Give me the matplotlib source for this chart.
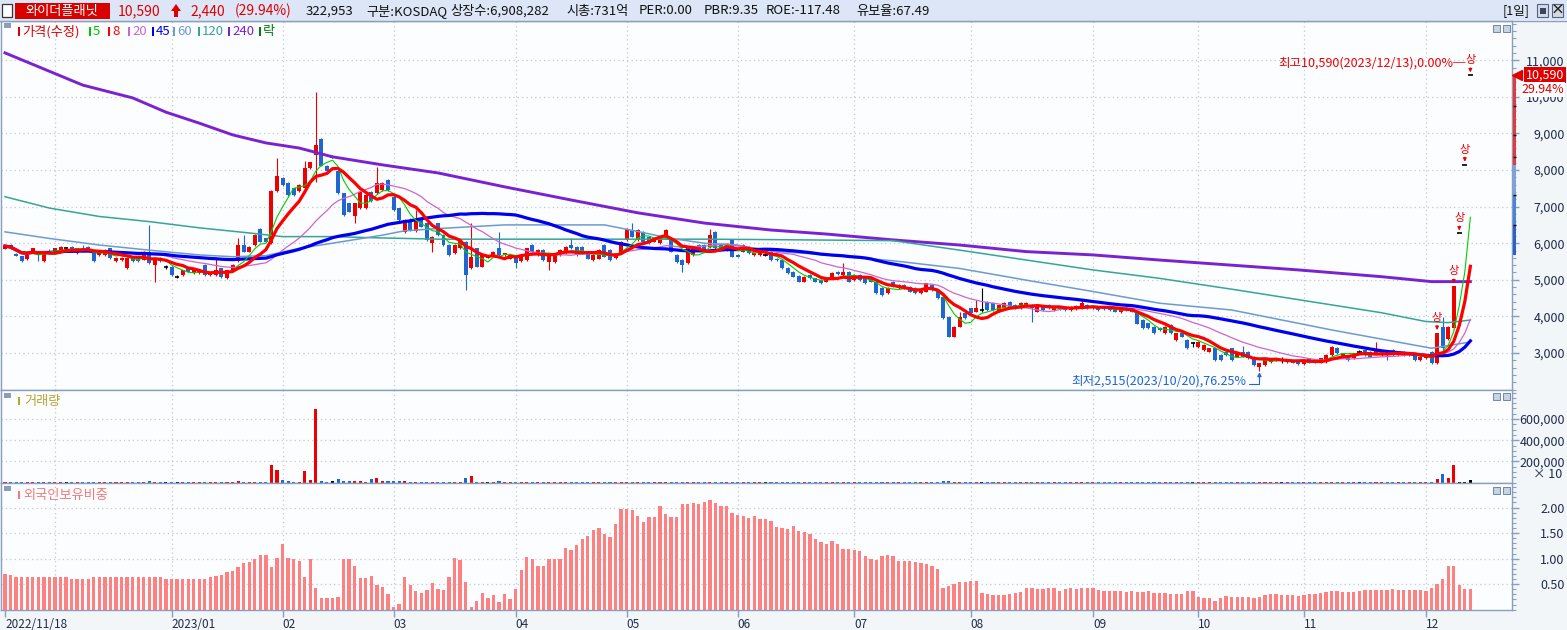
"""Daily candle chart of 와이더플래닛 (KOSDAQ) with volume and foreign holding ratio."""

import matplotlib

matplotlib.use("Agg")
import matplotlib.pyplot as plt
import numpy as np
import pandas as pd
from matplotlib.patches import Polygon, Rectangle
from matplotlib.ticker import FuncFormatter, MultipleLocator
from matplotlib.transforms import blended_transform_factory

plt.rcParams["font.family"] = ["Noto Sans CJK KR", "DejaVu Sans"]

# ---------------------------------------------------------------- data
# one entry per trading day, 2022/11/18 .. 2023/12/13 (265 days)
opens = [
    5850, 5950, 5700, 5640, 5560, 5770, 5780, 5500, 5800, 5780,
    5780, 5860, 5900, 5730, 5860, 5900, 5770, 5680, 5680, 5860,
    5500, 5530, 5310, 5590, 5590, 5550, 5770, 5400, 5590, 5350,
    5350, 5080, 5130, 5310, 5180, 5180, 5400, 5130, 5130, 5310,
    5040, 5260, 5500, 5950, 5770, 5950, 6400, 6130, 6000, 7430,
    7770, 7650, 7500, 7430, 7500, 8060, 8410, 8860, 8120, 8360,
    7970, 7360, 7090, 6730, 6950, 6950, 7410, 7360, 7450, 7730,
    7270, 6950, 6310, 6630, 6320, 6630, 6540, 6000, 6540, 6220,
    5950, 5720, 5860, 6040, 5310, 5860, 5360, 5630, 5680, 5860,
    5680, 5580, 5630, 5500, 5540, 5950, 5680, 5810, 5490, 5490,
    5680, 5720, 5950, 5900, 5900, 5770, 5540, 5580, 5950, 5810,
    5590, 5720, 6090, 6360, 6090, 6310, 6180, 6040, 6000, 6130,
    6090, 5680, 5540, 5450, 5680, 5950, 5950, 5900, 6310, 5990,
    5810, 6090, 5680, 5770, 5900, 5680, 5680, 5680, 5770, 5580,
    5540, 5330, 5220, 5110, 4950, 5130, 5040, 4990, 4950, 5040,
    5220, 5130, 5220, 4990, 5140, 5090, 5040, 4950, 4770, 4630,
    4950, 4770, 4860, 4810, 4770, 4630, 4680, 4860, 4720, 4540,
    3990, 3450, 3720, 4080, 4220, 4130, 4180, 4400, 4360, 4130,
    4220, 4400, 4310, 4220, 4310, 4310, 4130, 4270, 4310, 4180,
    4270, 4240, 4180, 4200, 4220, 4310, 4220, 4270, 4240, 4240,
    4240, 4110, 4270, 4220, 4130, 3900, 3810, 3720, 3680, 3540,
    3770, 3360, 3540, 3360, 3260, 3170, 3080, 3040, 3130, 2950,
    3040, 3130, 2900, 3040, 3040, 2900, 2630, 2670, 2760, 2810,
    2810, 2760, 2800, 2760, 2700, 2850, 2810, 2740, 2760, 2940,
    3150, 2900, 2900, 2850, 3040, 3080, 3040, 2990, 2950, 3040,
    3080, 2950, 3040, 2950, 2990, 2810, 2850, 3040, 2730, 3720,
    3380, 3680, 6270, 8150, 10590,
]
highs = [
    5950, 5970, 5720, 5660, 5720, 5880, 5800, 5800, 5830, 5880,
    5920, 5900, 5930, 5880, 5950, 5920, 5790, 5790, 5830, 5880,
    5610, 5610, 5610, 5610, 5610, 5790, 6500, 5610, 5610, 5400,
    5370, 5130, 5280, 5330, 5280, 5280, 5420, 5190, 5590, 5330,
    5280, 5420, 6130, 6220, 5920, 6240, 6420, 6150, 7450, 8320,
    7800, 7670, 7520, 7610, 8250, 8230, 10140, 8880, 8140, 8400,
    7990, 7380, 7110, 7110, 7430, 7340, 7430, 8090, 7660, 7750,
    7290, 6970, 6650, 6680, 6910, 6650, 6560, 6200, 6560, 6240,
    5970, 5970, 6110, 6060, 6540, 5880, 5700, 5680, 5790, 6310,
    5740, 5700, 5650, 5700, 5880, 5970, 5830, 5830, 5700, 5740,
    5830, 5920, 6130, 5920, 5920, 5790, 5700, 5830, 5970, 5830,
    5740, 6060, 6420, 6540, 6380, 6330, 6200, 6150, 6200, 6380,
    6110, 5700, 5560, 5880, 5880, 5970, 5970, 6400, 6330, 6010,
    6010, 6110, 5700, 5970, 5920, 5740, 5740, 5720, 5790, 5600,
    5560, 5350, 5240, 5130, 5100, 5150, 5060, 5010, 5060, 5200,
    5240, 5450, 5240, 5150, 5160, 5110, 5060, 4970, 4790, 4790,
    4970, 4880, 4880, 4830, 4790, 4740, 4920, 4880, 4740, 4560,
    4010, 3740, 4130, 4100, 4240, 4450, 4770, 4420, 4380, 4330,
    4380, 4420, 4330, 4380, 4380, 4330, 4290, 4290, 4330, 4290,
    4290, 4260, 4290, 4310, 4450, 4330, 4310, 4290, 4260, 4260,
    4260, 4200, 4350, 4240, 4150, 3920, 3830, 3740, 3700, 3740,
    3790, 3560, 3560, 3380, 3310, 3330, 3240, 3150, 3150, 2970,
    3060, 3150, 3010, 3180, 3060, 2920, 2740, 2870, 2830, 2870,
    2900, 2830, 2820, 2780, 2780, 2870, 2830, 2870, 2960, 3190,
    3170, 3010, 2920, 3010, 3080, 3100, 3060, 3310, 3060, 3060,
    3100, 3060, 3060, 3010, 3010, 2920, 2920, 3060, 3550, 3990,
    3750, 4820, 6270, 8150, 10590,
]
lows = [
    5830, 5850, 5640, 5480, 5540, 5750, 5500, 5480, 5740, 5760,
    5760, 5820, 5750, 5700, 5750, 5790, 5480, 5660, 5660, 5570,
    5480, 5510, 5290, 5480, 5480, 5530, 5430, 4950, 5480, 5300,
    5110, 5040, 5110, 5200, 5160, 5160, 5110, 5110, 5110, 5060,
    5020, 5240, 5480, 5750, 5750, 5930, 6020, 6020, 5980, 7400,
    7570, 7300, 7300, 7410, 7480, 8040, 7660, 8100, 7950, 8330,
    7340, 6750, 6840, 6540, 6930, 6930, 7130, 7340, 7430, 7430,
    6880, 6610, 6290, 6340, 6300, 6430, 6070, 5770, 6200, 5930,
    5660, 5700, 5840, 4720, 5290, 5340, 5340, 5590, 5660, 5660,
    5660, 5560, 5310, 5480, 5520, 5750, 5660, 5520, 5270, 5470,
    5660, 5700, 5840, 5660, 5700, 5560, 5520, 5560, 5610, 5520,
    5570, 5700, 6070, 6160, 6070, 6020, 5980, 6020, 5980, 6110,
    5750, 5470, 5220, 5430, 5660, 5790, 5750, 5880, 5840, 5840,
    5790, 5610, 5610, 5750, 5700, 5660, 5660, 5640, 5520, 5520,
    5290, 5160, 5070, 4930, 4930, 5020, 4930, 4880, 4930, 5020,
    5130, 5110, 4930, 4970, 4980, 4880, 4930, 4610, 4570, 4610,
    4790, 4750, 4750, 4660, 4610, 4610, 4660, 4700, 4470, 3930,
    3430, 3430, 3700, 3930, 4060, 4110, 4130, 4160, 4160, 4110,
    4200, 4250, 4200, 4200, 4290, 3860, 4110, 4160, 4200, 4160,
    4180, 4160, 4160, 4180, 4200, 4200, 4200, 4160, 4180, 4160,
    4110, 4090, 4160, 4110, 3780, 3660, 3660, 3520, 3610, 3520,
    3520, 3340, 3430, 3110, 3170, 3150, 3060, 3020, 2790, 2790,
    2930, 2790, 2880, 2880, 2840, 2650, 2515, 2650, 2740, 2790,
    2720, 2740, 2720, 2680, 2680, 2720, 2720, 2720, 2740, 2920,
    2970, 2880, 2790, 2830, 3000, 2930, 2880, 2970, 2930, 2810,
    2930, 2930, 2930, 2930, 2790, 2790, 2830, 2710, 2700, 3080,
    3360, 3660, 6270, 8150, 10590,
]
closes = [
    5920, 5870, 5660, 5500, 5690, 5860, 5690, 5770, 5760, 5860,
    5900, 5860, 5770, 5860, 5770, 5810, 5500, 5770, 5810, 5590,
    5590, 5590, 5590, 5500, 5500, 5770, 5450, 5590, 5500, 5350,
    5130, 5080, 5260, 5220, 5260, 5260, 5130, 5170, 5260, 5080,
    5260, 5400, 5950, 5770, 5900, 6220, 6040, 6040, 7430, 7840,
    7590, 7320, 7320, 7590, 8050, 8210, 8680, 8120, 7970, 8360,
    7360, 6770, 6860, 7090, 7410, 7320, 7150, 7640, 7640, 7450,
    6900, 6630, 6630, 6360, 6630, 6450, 6090, 6180, 6220, 5950,
    5680, 5950, 6090, 5130, 5630, 5360, 5680, 5630, 5770, 5680,
    5720, 5680, 5450, 5680, 5860, 5770, 5810, 5540, 5680, 5720,
    5810, 5900, 5860, 5680, 5720, 5580, 5680, 5810, 5630, 5540,
    5720, 6040, 6400, 6180, 6360, 6040, 6000, 6130, 6180, 6360,
    5770, 5490, 5400, 5860, 5860, 5810, 5770, 6220, 5860, 5860,
    5990, 5630, 5630, 5950, 5720, 5720, 5720, 5680, 5540, 5540,
    5310, 5180, 5090, 4950, 5090, 5040, 4950, 4900, 5040, 5180,
    5150, 5220, 4950, 5130, 5000, 4900, 4950, 4630, 4590, 4770,
    4810, 4860, 4770, 4680, 4630, 4720, 4900, 4720, 4490, 3950,
    3450, 3720, 3990, 3950, 4080, 4220, 4180, 4180, 4180, 4310,
    4360, 4270, 4220, 4360, 4360, 4220, 4270, 4180, 4220, 4270,
    4200, 4180, 4270, 4290, 4360, 4220, 4290, 4180, 4200, 4180,
    4130, 4180, 4180, 4130, 3800, 3680, 3680, 3540, 3630, 3720,
    3540, 3540, 3450, 3130, 3260, 3310, 3220, 3130, 2810, 2810,
    2950, 2810, 2990, 2900, 2860, 2670, 2720, 2850, 2810, 2850,
    2810, 2810, 2740, 2700, 2760, 2740, 2740, 2850, 2940, 3170,
    2990, 2990, 2810, 2990, 3040, 2950, 2900, 3080, 3040, 2950,
    2950, 3040, 2950, 2990, 2810, 2900, 2900, 2730, 3550, 3130,
    3710, 4820, 6270, 8150, 10590,
]
volumes = [
    10000, 10000, 10000, 10000, 10000, 10000, 10000, 10000, 10000, 10000,
    10000, 10000, 10000, 10000, 10000, 10000, 10000, 10000, 10000, 10000,
    10000, 10000, 10000, 10000, 10000, 10000, 16000, 10000, 10000, 10000,
    10000, 10000, 10000, 10000, 10000, 10000, 10000, 10000, 10000, 10000,
    10000, 10000, 14000, 10000, 10000, 10000, 10000, 10000, 170000, 120000,
    28000, 14000, 10000, 10000, 113000, 28000, 696000, 19000, 10000, 14000,
    38000, 19000, 14000, 14000, 14000, 10000, 38000, 44000, 14000, 14000,
    14000, 14000, 14000, 10000, 10000, 10000, 10000, 10000, 10000, 10000,
    10000, 10000, 10000, 44000, 63000, 10000, 10000, 10000, 10000, 14000,
    10000, 10000, 10000, 10000, 10000, 10000, 10000, 10000, 10000, 10000,
    10000, 10000, 10000, 10000, 10000, 10000, 10000, 10000, 10000, 10000,
    10000, 10000, 10000, 10000, 10000, 10000, 10000, 10000, 10000, 10000,
    10000, 10000, 10000, 10000, 10000, 10000, 10000, 10000, 10000, 10000,
    10000, 10000, 10000, 10000, 10000, 10000, 10000, 10000, 10000, 10000,
    10000, 10000, 10000, 10000, 10000, 10000, 10000, 10000, 10000, 10000,
    10000, 10000, 10000, 10000, 10000, 10000, 10000, 10000, 10000, 10000,
    10000, 10000, 10000, 10000, 10000, 10000, 10000, 10000, 10000, 14000,
    16000, 10000, 10000, 10000, 10000, 10000, 10000, 10000, 10000, 10000,
    10000, 10000, 10000, 10000, 10000, 10000, 10000, 10000, 10000, 10000,
    10000, 10000, 10000, 10000, 10000, 10000, 10000, 10000, 10000, 10000,
    10000, 10000, 10000, 10000, 10000, 10000, 10000, 10000, 10000, 10000,
    10000, 10000, 10000, 10000, 10000, 10000, 10000, 10000, 10000, 10000,
    10000, 10000, 10000, 10000, 10000, 10000, 10000, 10000, 10000, 10000,
    10000, 10000, 10000, 10000, 10000, 10000, 10000, 10000, 10000, 10000,
    10000, 10000, 10000, 10000, 10000, 10000, 10000, 10000, 10000, 10000,
    10000, 10000, 10000, 10000, 10000, 10000, 10000, 10000, 31000, 85000,
    44000, 163000, 5000, 5000, 22000,
]
foreign_ratio = [
    0.70, 0.68, 0.64, 0.65, 0.65, 0.65, 0.64, 0.64, 0.64, 0.64,
    0.64, 0.64, 0.61, 0.61, 0.61, 0.61, 0.64, 0.64, 0.64, 0.64,
    0.64, 0.64, 0.64, 0.64, 0.64, 0.64, 0.64, 0.64, 0.64, 0.61,
    0.61, 0.61, 0.61, 0.61, 0.61, 0.61, 0.61, 0.64, 0.66, 0.68,
    0.74, 0.75, 0.84, 0.91, 0.93, 0.99, 1.07, 1.07, 0.84, 1.01,
    1.29, 1.01, 0.99, 0.95, 0.64, 0.99, 0.42, 0.22, 0.22, 0.22,
    0.24, 0.99, 0.99, 0.86, 0.62, 0.62, 0.66, 0.48, 0.44, 0.30,
    0.05, 0.11, 0.64, 0.48, 0.36, 0.32, 0.38, 0.52, 0.40, 0.38,
    0.64, 1.01, 0.97, 0.54, 0.05, 0.18, 0.32, 0.22, 0.28, 0.16,
    0.30, 0.20, 0.40, 0.78, 1.03, 0.99, 0.86, 0.86, 0.99, 0.99,
    0.99, 1.21, 1.17, 1.27, 1.39, 1.45, 1.57, 1.59, 1.49, 1.43,
    1.68, 1.98, 1.98, 1.96, 1.84, 1.72, 1.82, 1.82, 2.04, 1.88,
    1.82, 1.82, 2.06, 2.06, 2.08, 2.06, 2.10, 2.14, 2.08, 2.04,
    2.04, 1.90, 1.86, 1.84, 1.80, 1.84, 1.78, 1.78, 1.74, 1.61,
    1.59, 1.58, 1.63, 1.54, 1.53, 1.48, 1.38, 1.32, 1.29, 1.34,
    1.28, 1.18, 1.18, 1.16, 1.14, 1.05, 1.00, 0.97, 1.05, 1.07,
    1.05, 0.95, 0.95, 0.95, 0.93, 0.91, 0.89, 0.85, 0.79, 0.42,
    0.47, 0.50, 0.54, 0.54, 0.56, 0.56, 0.32, 0.30, 0.28, 0.28,
    0.28, 0.30, 0.32, 0.34, 0.43, 0.42, 0.40, 0.40, 0.42, 0.42,
    0.37, 0.40, 0.43, 0.40, 0.43, 0.42, 0.42, 0.38, 0.36, 0.36,
    0.36, 0.36, 0.34, 0.36, 0.34, 0.34, 0.36, 0.32, 0.32, 0.32,
    0.30, 0.30, 0.30, 0.36, 0.36, 0.24, 0.22, 0.22, 0.18, 0.22,
    0.26, 0.24, 0.24, 0.24, 0.24, 0.22, 0.24, 0.28, 0.30, 0.30,
    0.28, 0.28, 0.28, 0.26, 0.28, 0.30, 0.30, 0.32, 0.34, 0.36,
    0.36, 0.34, 0.34, 0.34, 0.36, 0.38, 0.38, 0.39, 0.38, 0.39,
    0.41, 0.39, 0.39, 0.38, 0.38, 0.38, 0.36, 0.42, 0.50, 0.60,
    0.86, 0.86, 0.48, 0.40, 0.40,
]

# long moving averages (their history starts before the window)
ma60_idx = [0, 8, 17, 26, 35, 41, 47, 53, 59, 68, 72, 78, 90, 102, 108,
            114, 120, 126, 132, 137, 148, 160, 172, 184, 196, 208, 221, 239, 257, 264]
ma60_val = [6310, 6130, 5950, 5810, 5680, 5630, 5660, 5860, 6000, 6220, 6340, 6400, 6500, 6500, 6500,
            6320, 6130, 6000, 5950, 5800, 5680, 5520, 5310, 4990, 4680, 4360, 4175, 3630, 3130, 3300]
ma120_idx = [0, 8, 17, 26, 35, 44, 50, 59, 66, 78, 102, 126, 136, 160,
             172, 184, 196, 208, 222, 248, 256, 260, 264]
ma120_val = [7270, 6960, 6730, 6590, 6420, 6280, 6180, 6180, 6150, 6110, 6110, 6110, 6100, 6070,
             5810, 5540, 5270, 5040, 4720, 4100, 3860, 3830, 3900]
ma240_idx = [0, 14, 23, 29, 35, 41, 47, 53, 59, 68, 78, 90, 102, 114, 126,
             138, 148, 160, 172, 184, 196, 208, 233, 248, 257, 264]
ma240_val = [11200, 10320, 9970, 9580, 9280, 8960, 8740, 8600, 8360, 8140, 7920, 7540, 7180, 6830, 6550,
             6360, 6250, 6090, 5950, 5770, 5680, 5540, 5270, 5085, 4950, 4950]

month_idx = [0, 30, 50, 70, 92, 112, 132, 153, 174, 196, 215, 234, 256]
month_labels = ["2022/11/18", "2023/01", "02", "03", "04", "05", "06",
                "07", "08", "09", "10", "11", "12"]
grid_idx = [9, 30, 50, 70, 92, 112, 132, 153, 174, 196, 215, 234, 256]

limit_up_idx = [258, 261, 262, 263, 264]
high_idx, high_text = 264, "최고10,590(2023/12/13),0.00%─"
low_idx, low_text = 226, "최저2,515(2023/10/20),76.25%"

last_price, last_change = "10,590", "29.94%"
# colour bar beside the price scale: (top, bottom, colour)
side_bar = [(10590, 8150, "#E63A3A"), (8150, 7320, "#7AA3E2"),
            (7320, 6500, "#4C84D8"), (6500, 5680, "#2A63CB")]
side_bar_marks = [9745, 8960, 8360, 7320, 6500]

price_ticks = [3000, 4000, 5000, 6000, 7000, 8000, 9000, 10000, 11000]
volume_ticks = [200000, 400000, 600000]
ratio_ticks = [0.5, 1.0, 1.5, 2.0]

# ---------------------------------------------------------------- style
UP, DOWN, FLAT = "#EE0000", "#1F66D1", "#000000"
SPINE = "#8A9EBD"
GRID = "#C3CAD3"
NAVY = "#1E2B4A"
PANEL = "#FBFDFE"
MARGIN = "#F3F6F9"
MA_STYLE = {
    5: ("#00D000", 0.8),
    8: ("#FF0000", 2.3),
    20: ("#CC66CC", 0.9),
    45: ("#0000F0", 2.3),
    60: ("#6E9ACF", 1.1),
    120: ("#35A596", 1.1),
    240: ("#7A22D0", 2.1),
}

W, H = 1567, 630


def fbox(x0, y0, x1, y1):
    return [x0 / W, 1 - y1 / H, (x1 - x0) / W, (y1 - y0) / H]


fig = plt.figure(figsize=(W / 100, H / 100), dpi=100, facecolor=MARGIN)


def fig_rect(x0, y0, x1, y1, **kw):
    fig.patches.append(Rectangle((x0 / W, 1 - y1 / H), (x1 - x0) / W, (y1 - y0) / H,
                                 transform=fig.transFigure, **kw))


def fig_text(x, y, s, **kw):
    fig.text(x / W, 1 - y / H, s, **kw)


ax_p = fig.add_axes(fbox(1, 21, 1512, 390))
ax_v = fig.add_axes(fbox(1, 390, 1512, 483))
ax_f = fig.add_axes(fbox(1, 483, 1512, 610))

n = len(closes)
x = np.arange(n)
o, h, l, c = (np.array(v, dtype=float) for v in (opens, highs, lows, closes))
colors = np.where(c > o, UP, np.where(c < o, DOWN, FLAT))

for ax in (ax_p, ax_v, ax_f):
    ax.set_facecolor(PANEL)
    for sp in ax.spines.values():
        sp.set_color(SPINE)
        sp.set_linewidth(1.0)
    ax.set_xlim(-0.72, 271.5)
    for g in grid_idx:
        ax.axvline(g, color=GRID, lw=0.9, ls=(0, (1, 2.5)), zorder=0)
    ax.grid(axis="y", which="major", color=GRID, lw=0.9, ls=(0, (1, 2.5)))
    ax.set_axisbelow(True)
    ax.yaxis.tick_right()
    ax.tick_params(axis="y", which="major", length=5, width=1, color=SPINE, direction="out",
                   pad=33, labelsize=9, labelcolor=NAVY)
    ax.tick_params(axis="y", which="minor", length=3, width=0.8, color=SPINE, direction="out")

# ---------------------------------------------------------------- price panel
ax_p.vlines(x, l, h, colors=colors, lw=0.8, zorder=2)
ax_p.bar(x, np.abs(c - o), bottom=np.minimum(o, c), width=0.72, color=colors, lw=0, zorder=2)
flat = c == o
ax_p.hlines(c[flat], x[flat] - 0.42, x[flat] + 0.42, colors=FLAT, lw=1.2, zorder=2)

close_s = pd.Series(closes, dtype=float)
for win, idx, val in [(240, ma240_idx, ma240_val), (120, ma120_idx, ma120_val),
                      (60, ma60_idx, ma60_val)]:
    col, lw = MA_STYLE[win]
    ax_p.plot(idx, val, color=col, lw=lw, zorder=3)
for win in (20, 45, 5, 8):
    col, lw = MA_STYLE[win]
    ax_p.plot(x, close_s.rolling(win, min_periods=1).mean(), color=col, lw=lw, zorder=3)

ax_p.set_ylim(1989, 12071)
ax_p.set_xticks([])
ax_p.set_yticks(price_ticks)
ax_p.yaxis.set_major_formatter(FuncFormatter(lambda v, _: f"{int(v):,}"))
ax_p.yaxis.set_minor_locator(MultipleLocator(200))
plt.setp(ax_p.get_yticklabels(), ha="right")

for i in limit_up_idx:
    ax_p.annotate("상", xy=(i, highs[i]), xytext=(0, 15), textcoords="offset pixels",
                  ha="center", va="center", fontsize=8, color=UP, zorder=6,
                  arrowprops=dict(arrowstyle="-|>", color=UP, lw=0.8, mutation_scale=5,
                                  shrinkA=0, shrinkB=2),
                  annotation_clip=False)
ax_p.annotate(high_text, xy=(high_idx, highs[high_idx]), xytext=(-5, 12),
              textcoords="offset pixels", ha="right", va="center", fontsize=9, color=UP)
ax_p.annotate(low_text, xy=(low_idx, lows[low_idx]), xytext=(-13, -10),
              textcoords="offset pixels", ha="right", va="center", fontsize=9, color=DOWN,
              arrowprops=dict(arrowstyle="-|>", color=DOWN, lw=0.8, mutation_scale=6,
                              shrinkA=0, shrinkB=1, relpos=(1.0, 0.25),
                              connectionstyle="angle,angleA=0,angleB=90,rad=0"))

# colour bar, marker and last price box on the price scale
trans = blended_transform_factory(ax_p.transAxes, ax_p.transData)
for top, bot, col in side_bar:
    ax_p.add_patch(Rectangle((1.0004, bot), 0.0022, top - bot, transform=trans,
                             facecolor=col, edgecolor="none", clip_on=False, zorder=5))
ax_p.hlines(side_bar_marks, 1.0004, 1.0026, transform=trans, colors="black", lw=1,
            clip_on=False, zorder=6)
ax_p.plot([1.0036], [closes[-1]], marker="<", ms=6.5, color="#E00000", transform=trans,
          clip_on=False, zorder=7)
ax_p.text(1.0345, closes[-1], last_price, transform=trans, ha="right", va="center",
          color="white", fontsize=9, zorder=7,
          bbox=dict(boxstyle="square,pad=0.12", fc="#E00000", ec="none"))
ax_p.annotate(last_change, xy=(1.0345, closes[-1]), xycoords=trans, xytext=(0, -14),
              textcoords="offset pixels", ha="right", va="center", color="#E00000",
              fontsize=9, zorder=7, annotation_clip=False,
              bbox=dict(boxstyle="square,pad=0.08", fc="white", ec="none"))

# ---------------------------------------------------------------- volume panel
ax_v.bar(x, volumes, width=0.55, color=colors, lw=0, zorder=2)
ax_v.set_ylim(-3000, 874400)
ax_v.set_xticks([])
ax_v.set_yticks(volume_ticks)
ax_v.yaxis.set_major_formatter(FuncFormatter(lambda v, _: f"{int(v):,}"))
ax_v.yaxis.set_minor_locator(MultipleLocator(50000))
plt.setp(ax_v.get_yticklabels(), ha="right")
ax_v.text(1.0335, 76000, "× 10", transform=blended_transform_factory(ax_v.transAxes, ax_v.transData),
          ha="right", va="center", fontsize=9, color=NAVY)

# ---------------------------------------------------------------- foreign ratio panel
ax_f.bar(x, foreign_ratio, width=0.6, color="#FF8080", lw=0, zorder=2)
ax_f.set_ylim(-0.006, 2.481)
ax_f.set_yticks(ratio_ticks)
ax_f.yaxis.set_major_formatter(FuncFormatter(lambda v, _: f"{v:.2f}"))
ax_f.yaxis.set_minor_locator(MultipleLocator(0.1))
plt.setp(ax_f.get_yticklabels(), ha="right")
ax_f.set_xticks(month_idx, month_labels)
ax_f.tick_params(axis="x", length=5, width=1, color=SPINE, direction="out", pad=1,
                 labelsize=8.5, labelcolor=NAVY)
plt.setp(ax_f.get_xticklabels(), ha="left")

# ---------------------------------------------------------------- header bar
fig_rect(0, 0, W, 20, facecolor="#DCE6F7", edgecolor="none")
fig.lines.append(plt.Line2D([0, 1], [1 - 20.5 / H] * 2, transform=fig.transFigure,
                            color=SPINE, lw=1))
fig_rect(2, 4, 12, 17, facecolor="white", edgecolor="#333333", lw=0.9)
fig_rect(15, 3, 110, 19, facecolor="#D90000", edgecolor="none")
fig_text(62, 11, "와이더플래닛", ha="center", va="center", color="white", fontsize=9.5)
fig_text(118, 11, "10,590", ha="left", va="center", color="#E00000", fontsize=10)
fig.patches.append(Polygon([(171 / W, 1 - 11 / H), (176 / W, 1 - 4 / H), (181 / W, 1 - 11 / H),
                            (178 / W, 1 - 11 / H), (178 / W, 1 - 17 / H), (174 / W, 1 - 17 / H),
                            (174 / W, 1 - 11 / H)], closed=True, transform=fig.transFigure,
                           facecolor="#E00000", edgecolor="none"))
fig_text(190, 11, "2,440", ha="left", va="center", color="#E00000", fontsize=10)
fig_text(235, 11, "(29.94%)", ha="left", va="center", color="#E00000", fontsize=10)
for xpos, s in [(306, "322,953"), (366, "구분:KOSDAQ"), (450, "상장수:6,908,282"),
                (566, "시총:731억"), (639, "PER:0.00"), (704, "PBR:9.35"),
                (766, "ROE:-117.48"), (856, "유보율:67.49")]:
    fig_text(xpos, 11, s, ha="left", va="center", color="#111111", fontsize=9.5)
fig_text(1503, 11, "[1일]", ha="left", va="center", color="#111111", fontsize=9)
fig_rect(1537, 4, 1548, 17, facecolor="#D3DAE6", edgecolor="#56657E", lw=0.8)
fig_rect(1539.5, 8, 1545.5, 13.5, facecolor="#3A4660", edgecolor="none")
fig_rect(1552, 4, 1563, 17, facecolor="#D3DAE6", edgecolor="#56657E", lw=0.8)
fig_text(1557.5, 10.5, "×", ha="center", va="center", color="#222222", fontsize=10,
         fontweight="bold")

# ---------------------------------------------------------------- panel legends & icons
for y_top in (22, 392, 485):
    fig_rect(4, y_top + 1, 11, y_top + 6, facecolor="#8C9DB8", edgecolor="none")
for y_top in (25, 393, 487):
    fig_rect(1493, y_top, 1500, y_top + 7, facecolor="#C7D2E2", edgecolor="#6F86A8", lw=0.7)
    fig_rect(1503, y_top, 1510, y_top + 7, facecolor="#C7D2E2", edgecolor="#6F86A8", lw=0.7)

legend_items = [("가격(수정)", "#E00000", 18), ("5", "#00C800", 89), ("8", "#FF0000", 108),
                ("20", "#CC66CC", 128), ("45", "#0000F0", 152), ("60", "#6E9ACF", 173),
                ("120", "#35A596", 198), ("240", "#7A22D0", 228), ("락", "#008000", 259)]
for label, col, xpos in legend_items:
    fig_rect(xpos, 27, xpos + 2, 36, facecolor=col, edgecolor="none")
    fig_text(xpos + 4, 31.5, label, ha="left", va="center", color=col, fontsize=9.5)

fig_rect(18, 397, 20, 405, facecolor="#B5A630", edgecolor="none")
fig_text(24, 401, "거래량", ha="left", va="center", color="#B5A630", fontsize=9.5)
fig_rect(18, 491, 20, 499, facecolor="#F37A7A", edgecolor="none")
fig_text(23, 495, "외국인보유비중", ha="left", va="center", color="#F37A7A", fontsize=9.5)

fig.savefig("out.png", dpi=100, facecolor=MARGIN)
